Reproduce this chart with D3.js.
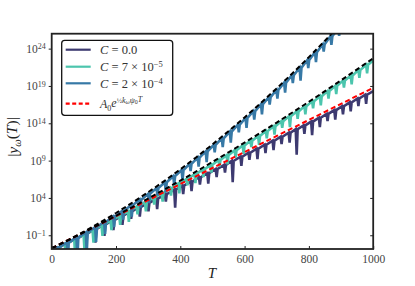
<!DOCTYPE html>
<html>
<head>
<meta charset="utf-8">
<script src="https://d3js.org/d3.v7.min.js"></script>
<style>
  body { margin: 0; background: #fff; }
  text { font-family: "Liberation Serif", "DejaVu Serif", serif; }
</style>
</head>
<body>
<svg id="grafico"></svg>
<script>
// ticks
const xTicks = [0, 200, 400, 600, 800, 1000];
const yTickExp = [-1, 4, 9, 14, 19, 24];

// curvas teoricas (log10 |y|), leidas cada 50 en T
const Tteo = [0, 50, 100, 150, 200, 250, 300, 350, 400, 450, 500, 550, 600, 650, 700, 750, 800, 850, 900, 950, 1000];
const ajusteRojo = [-2.74, -1.67, -0.59, 0.48, 1.56, 2.63, 3.71, 4.78, 5.86, 6.93, 8.01, 9.08, 10.15, 11.23, 12.30, 13.38, 14.45, 15.53, 16.60, 17.68, 18.75];
const teoriaC7 = [-2.74, -1.69, -0.61, 0.48, 1.61, 2.75, 3.92, 5.11, 6.32, 7.56, 8.82, 10.11, 11.41, 12.75, 14.10, 15.48, 16.88, 18.30, 19.75, 21.22, 22.71];
const teoriaC2 = [-2.74, -1.67, -0.52, 0.70, 1.98, 3.34, 4.76, 6.26, 7.82, 9.46, 11.16, 12.94, 14.78, 16.70, 18.68, 20.74, 22.86, 25.06, 27.32, 29.66, 32.06];

// simulaciones: [T, log10 arriba, log10 fondo del pico]
const serieC0 = [
  [0,-2.74,-2.74],[18,-2.71,-4.5],[48,-2.07,-4.3],[78,-1.43,-4.0],[107,-0.81,-3.3],
  [136,-0.19,-2.0],[164,0.41,-1.1],[192,1.01,-0.3],[220,1.61,0.4],[247,2.19,1.2],
  [274,2.76,1.5],[301,3.34,2.2],[328,3.92,2.5],[355,4.50,3.5],[384,5.12,2.7],
  [409,5.65,4.5],[435,6.21,4.9],[461,6.77,5.8],[487,7.32,5.9],[513,7.88,6.8],
  [539,8.43,7.4],[563,8.95,6.1],[590,9.53,8.3],[615,10.06,9.1],[640,10.60,9.2],
  [665,11.13,10.0],[690,11.67,10.4],[715,12.20,11.2],[740,12.74,11.4],[762,13.21,9.8],
  [786,13.72,12.6],[810,14.23,12.4],[834,14.75,13.5],[858,15.26,14.3],[882,15.77,14.5],
  [906,16.29,15.2],[930,16.80,15.6],[954,17.32,16.3],[978,17.83,16.6],[1000,18.30,18.30]
];
const serieC7 = [
  [0,-2.74,-2.74],[14,-2.75,-4.5],[44,-2.12,-4.5],[73,-1.50,-3.8],[102,-0.87,-2.9],
  [130,-0.26,-2.0],[158,0.36,-1.1],[186,0.99,-0.3],[213,1.60,0.4],[240,2.22,0.8],
  [267,2.85,1.8],[293,3.45,2.2],[319,4.07,3.1],[345,4.69,3.5],[371,5.32,4.3],
  [397,5.95,4.6],[422,6.57,5.7],[447,7.19,6.0],[472,7.81,6.8],[497,8.45,7.4],
  [522,9.09,8.2],[547,9.73,8.5],[572,10.38,9.4],[597,11.04,9.9],[621,11.67,10.8],
  [645,12.31,11.1],[669,12.96,12.0],[693,13.61,12.5],[717,14.27,13.4],[741,14.93,13.5],
  [765,15.59,14.6],[789,16.27,15.2],[813,16.94,16.0],[837,17.63,16.4],[861,18.32,17.3],
  [885,19.01,17.9],[909,19.71,18.8],[933,20.41,19.2],[957,21.13,20.1],[981,21.84,20.7],
  [1000,22.41,22.41]
];
const serieC2 = [
  [0,-2.74,-2.74],[20,-2.62,-4.5],[50,-1.97,-4.5],[80,-1.29,-4.0],[109,-0.61,-3.3],
  [138,0.10,-1.9],[166,0.80,-0.8],[194,1.52,0.1],[222,2.27,1.1],[249,3.01,1.5],
  [276,3.77,2.7],[303,4.55,3.3],[329,5.32,4.3],[355,6.11,4.7],[381,6.92,5.8],
  [407,7.74,6.4],[432,8.56,7.6],[457,9.39,8.2],[482,10.24,8.8],[507,11.11,10.1],
  [532,11.99,10.8],[557,12.89,11.4],[582,13.81,12.8],[606,14.71,13.4],[630,15.62,14.5],
  [654,16.55,15.2],[678,17.50,16.5],[702,18.46,17.3],[726,19.44,18.1],[750,20.44,19.4],
  [774,21.45,19.7],[798,22.47,21.4],[822,23.52,22.2],[846,24.58,23.6],[870,25.65,24.5],
  [894,26.74,25.7],[900,27.0,27.0]
];

const colores = { c0: "#3d3a70", c7: "#4cc5ad", c2: "#3779a6" };

const W = 415, H = 286;
const izq = 51.7, der = 373.2, arriba = 33.7, abajo = 249;

const svg = d3.select("#grafico").attr("width", W).attr("height", H);

const x = d3.scaleLinear().domain([0, 1000]).range([izq, der]);
const y = d3.scaleLog().domain([Math.pow(10, -2.84), 1e26]).range([abajo, arriba]);

svg.append("clipPath").attr("id", "recorte")
  .append("rect").attr("x", izq).attr("y", arriba).attr("width", der - izq).attr("height", abajo - arriba);

const linea = d3.line().x(d => x(d[0])).y(d => y(Math.pow(10, d[1])));

function trazo(serie) {
  const pts = [];
  serie.forEach(([t, top, low]) => {
    if (low < top) pts.push([t - 3, top], [t, low], [t + 3, top]);
    else pts.push([t, top]);
  });
  return pts;
}

const zona = svg.append("g").attr("clip-path", "url(#recorte)");

[["c0", serieC0], ["c7", serieC7], ["c2", serieC2]].forEach(([k, s]) => {
  zona.append("path").attr("d", linea(trazo(s)))
    .attr("fill", "none").attr("stroke", colores[k]).attr("stroke-width", 2.6);
});

const teo = (vals) => Tteo.map((t, i) => [t, vals[i]]);
zona.append("path").attr("d", linea(teo(ajusteRojo)))
  .attr("fill", "none").attr("stroke", "#ff0000").attr("stroke-width", 2).attr("stroke-dasharray", "5,3");
[teoriaC7, teoriaC2].forEach(v => {
  zona.append("path").attr("d", linea(teo(v)))
    .attr("fill", "none").attr("stroke", "#000").attr("stroke-width", 2).attr("stroke-dasharray", "5,3");
});

// ejes
const ejeX = svg.append("g").attr("transform", `translate(0,${abajo})`)
  .call(d3.axisBottom(x).tickValues(xTicks).tickSize(-3).tickPadding(6).tickFormat(d3.format("d")));
const ejeY = svg.append("g").attr("transform", `translate(${izq},0)`)
  .call(d3.axisLeft(y).tickValues(yTickExp.map(e => Math.pow(10, e))).tickSize(3).tickPadding(3));
const ejeD = svg.append("g").attr("transform", `translate(${der},0)`)
  .call(d3.axisRight(y).tickValues(yTickExp.map(e => Math.pow(10, e))).tickSize(-3).tickFormat(""));

[ejeX, ejeY, ejeD].forEach(g => {
  g.select(".domain").remove();
  g.selectAll("line").attr("stroke", "#222").attr("stroke-width", 1);
  g.selectAll("text").attr("fill", "#444").style("font-size", "11.5px");
});

ejeY.selectAll("text").each(function(d, i) {
  const t = d3.select(this).text("");
  t.append("tspan").text("10");
  t.append("tspan").attr("dy", "-0.45em").style("font-size", "8px")
    .text(String(yTickExp[i]).replace("-", "\u2212"));
});

svg.append("rect").attr("x", izq).attr("y", arriba).attr("width", der - izq).attr("height", abajo - arriba)
  .attr("fill", "none").attr("stroke", "#222").attr("stroke-width", 1.8);

// etiquetas de ejes
svg.append("text").attr("x", 212).attr("y", 278).attr("text-anchor", "middle")
  .style("font-size", "15px").style("font-style", "italic").attr("fill", "#222").text("T");

const ylab = svg.append("text").attr("transform", "translate(18,137) rotate(-90)")
  .attr("text-anchor", "middle").style("font-size", "15.5px").attr("fill", "#222");
ylab.append("tspan").text("|");
ylab.append("tspan").style("font-style", "italic").text("y");
ylab.append("tspan").attr("dy", "0.3em").style("font-size", "10.5px").style("font-style", "italic").text("ω");
ylab.append("tspan").attr("dy", "-0.3em").text("(");
ylab.append("tspan").style("font-style", "italic").text("T");
ylab.append("tspan").text(")|");

// leyenda
const ley = svg.append("g");
ley.append("rect").attr("x", 61.7).attr("y", 40.3).attr("width", 111).attr("height", 75)
  .attr("rx", 3).attr("fill", "#fff").attr("stroke", "#111").attr("stroke-width", 1.3);

const filas = [
  { y: 49.7, color: colores.c0, dash: null },
  { y: 66.7, color: colores.c7, dash: null },
  { y: 83.3, color: colores.c2, dash: null },
  { y: 103.7, color: "#ff0000", dash: "4,2.5" }
];
filas.forEach(f => {
  ley.append("line").attr("x1", 65.7).attr("x2", 90.7).attr("y1", f.y).attr("y2", f.y)
    .attr("stroke", f.color).attr("stroke-width", 2.2).attr("stroke-dasharray", f.dash);
});

function textoC(yy, partes) {
  const t = ley.append("text").attr("x", 100).attr("y", yy + 4.5).style("font-size", "12.5px").attr("fill", "#333");
  t.append("tspan").style("font-style", "italic").text("C");
  t.append("tspan").text(partes[0]);
  if (partes[1]) t.append("tspan").attr("dy", "-0.45em").style("font-size", "8.5px").text(partes[1]);
}
textoC(filas[0].y, [" = 0.0"]);
textoC(filas[1].y, [" = 7 \u00d7 10", "\u22125"]);
textoC(filas[2].y, [" = 2 \u00d7 10", "\u22124"]);

const tA = ley.append("text").attr("x", 100).attr("y", filas[3].y + 4.5).style("font-size", "12px").attr("fill", "#333");
tA.append("tspan").style("font-style", "italic").text("A");
tA.append("tspan").attr("dy", "0.3em").style("font-size", "8px").text("0");
tA.append("tspan").attr("dy", "-0.3em").style("font-style", "italic").text("e");
tA.append("tspan").attr("dy", "-0.55em").style("font-size", "7px").text("\u00bd");
tA.append("tspan").style("font-size", "8px").style("font-style", "italic").text("k");
tA.append("tspan").attr("dy", "0.2em").style("font-size", "6px").style("font-style", "italic").text("ω");
tA.append("tspan").attr("dy", "-0.2em").style("font-size", "8px").style("font-style", "italic").text("ψ");
tA.append("tspan").attr("dy", "0.2em").style("font-size", "6px").text("0");
tA.append("tspan").attr("dy", "-0.2em").style("font-size", "8px").style("font-style", "italic").text("T");
</script>
</body>
</html>
